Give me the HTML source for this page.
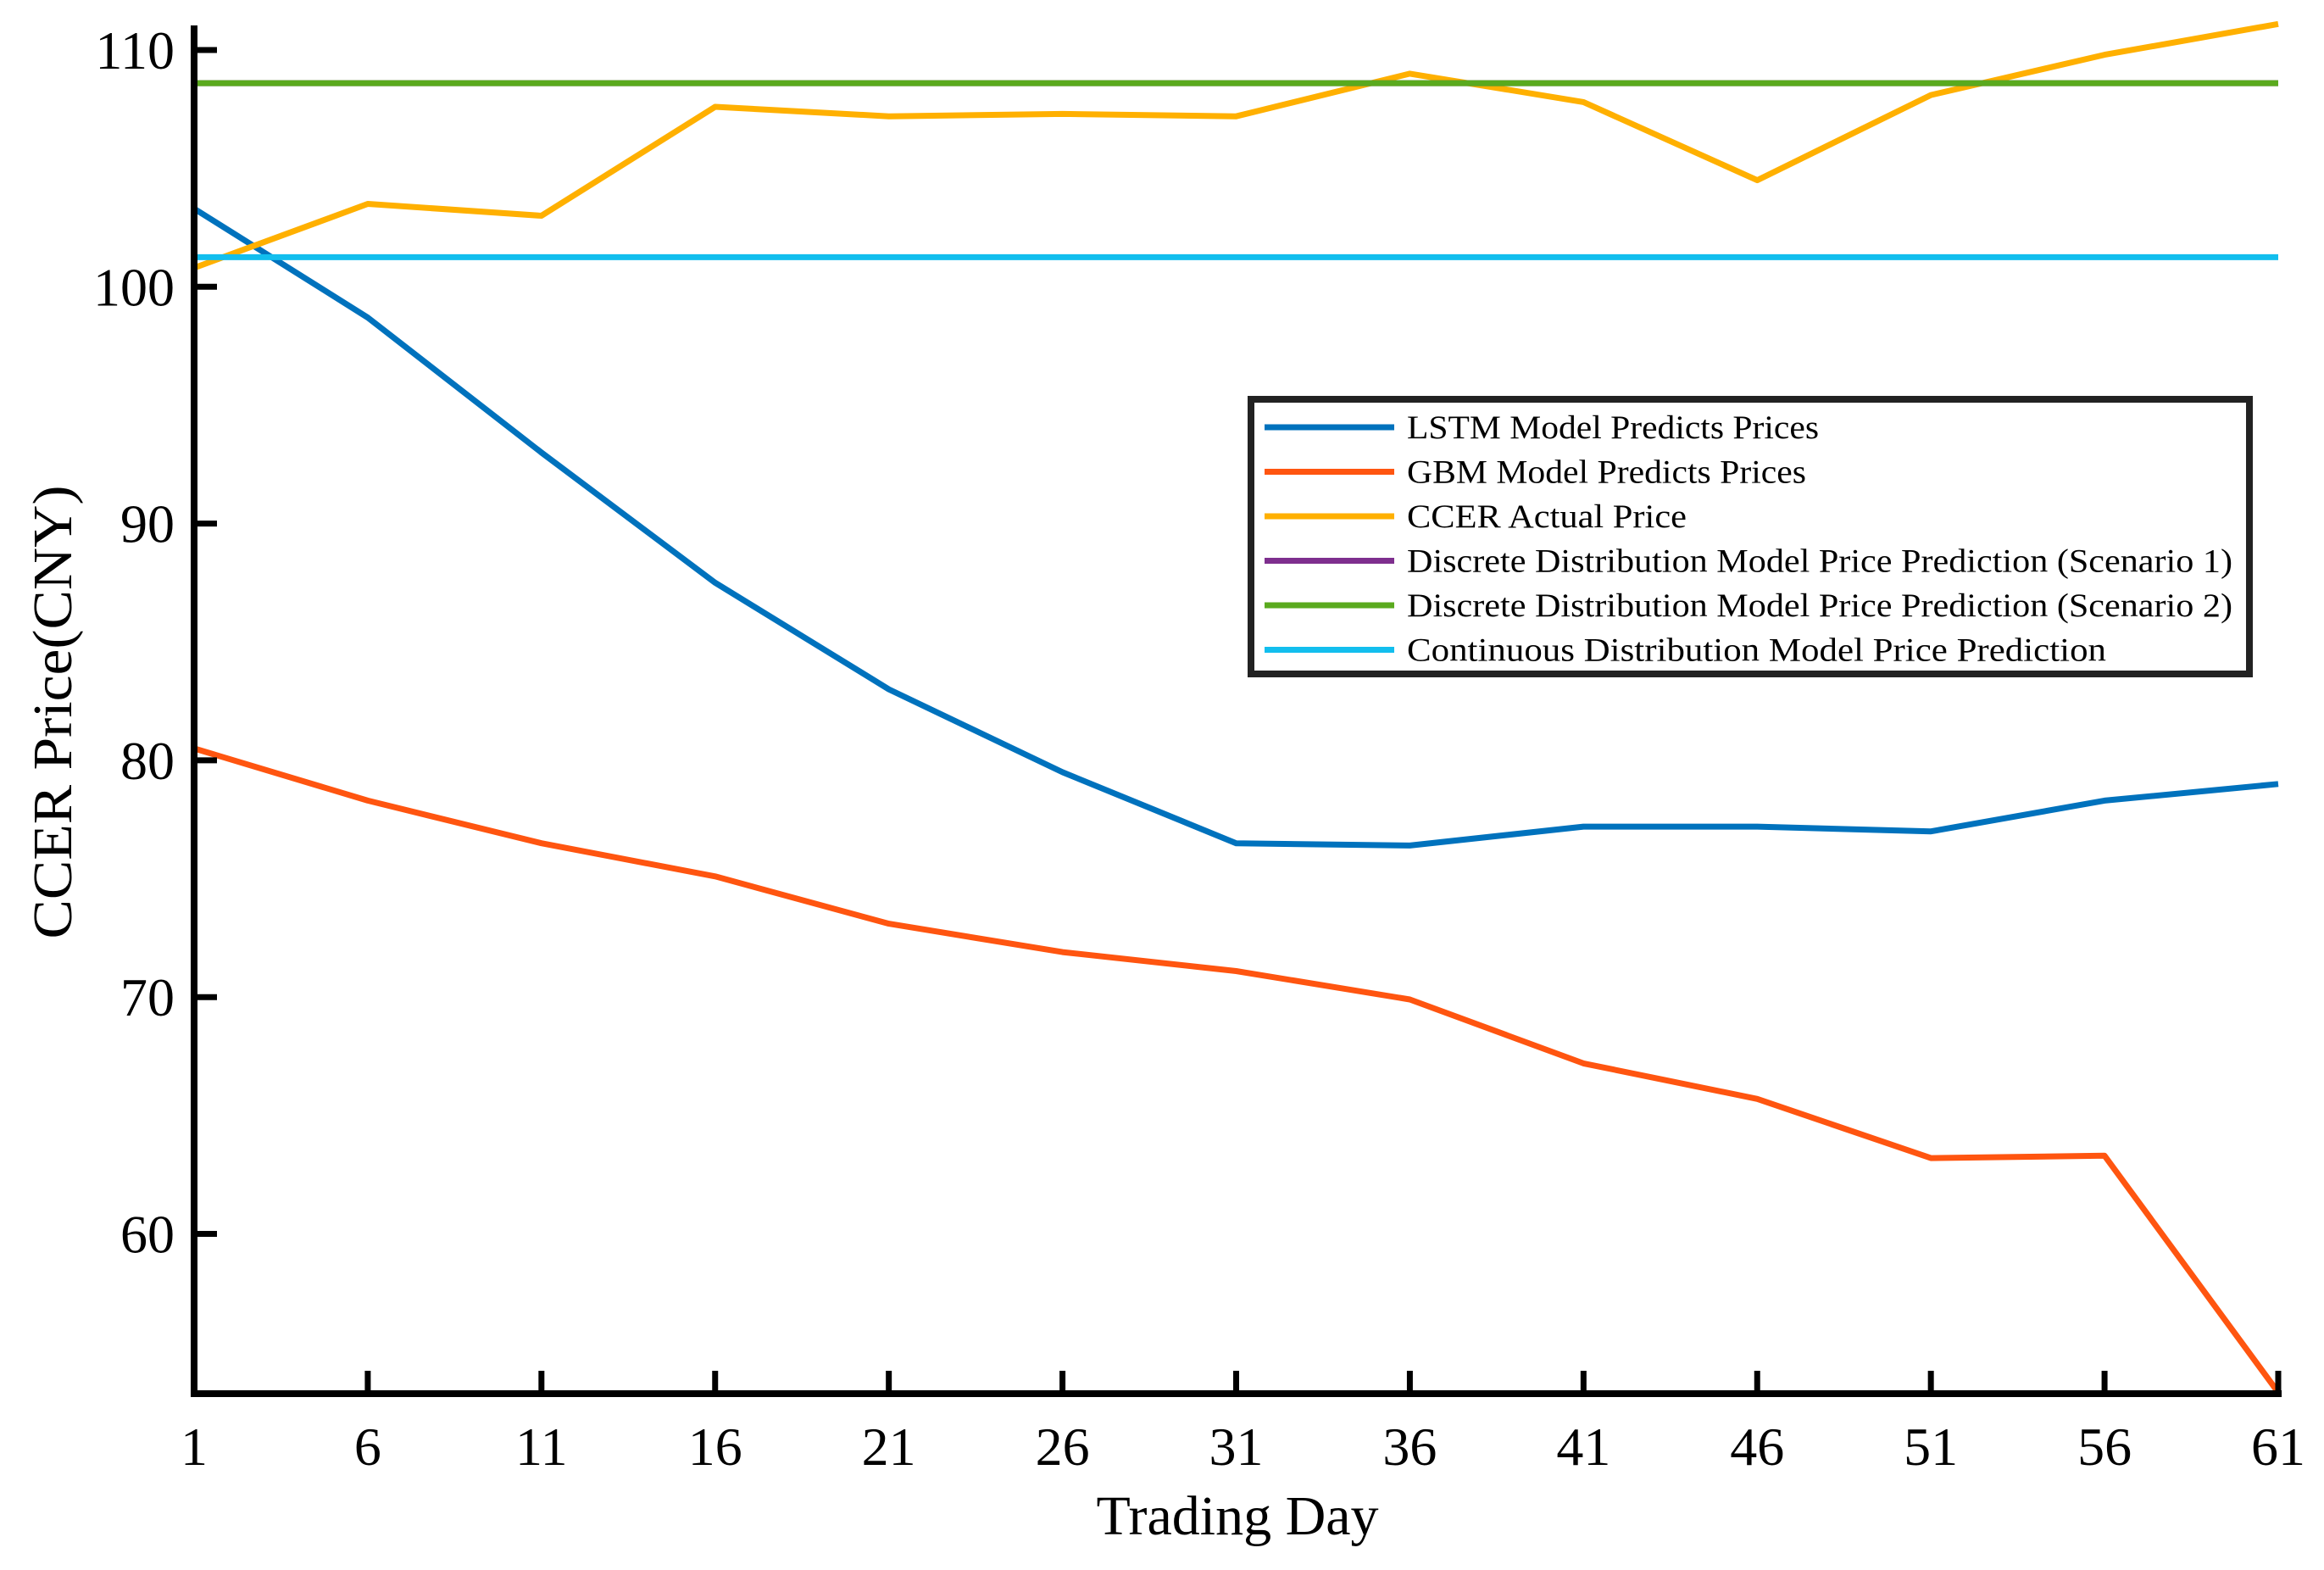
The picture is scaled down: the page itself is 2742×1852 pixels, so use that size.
<!DOCTYPE html>
<html><head><meta charset="utf-8"><style>
html,body{margin:0;padding:0;background:#fff;}
svg{display:block;font-family:"Liberation Serif","Times New Roman",serif;}
</style></head><body>
<svg id="chart" width="2742" height="1852" viewBox="0 0 2742 1852" xmlns="http://www.w3.org/2000/svg">
<g id="plot"></g>
<g id="axes"></g>
<g id="legend"></g>
</svg>
<script>
const days = [1,6,11,16,21,26,31,36,41,46,51,56,61];
const lstm = [103.3,98.7,93.0,87.5,83.0,79.5,76.5,76.4,77.2,77.2,77.0,78.3,79.0];
const gbm = [80.5,78.3,76.5,75.1,73.1,71.9,71.1,69.9,67.2,65.7,63.2,63.3,53.3];
const ccer = [100.8,103.5,103.0,107.6,107.2,107.3,107.2,109.0,107.8,104.5,108.1,109.8,111.1];
const scenario1 = [108.6,108.6];
const scenario2 = [108.6,108.6];
const continuous = [101.25,101.25];
const hDays = [1,61];
const yTicks = [60,70,80,90,100,110];
const xTicks = [1,6,11,16,21,26,31,36,41,46,51,56,61];
const legendLabels = ["LSTM Model Predicts Prices","GBM Model Predicts Prices","CCER Actual Price","Discrete Distribution Model Price Prediction (Scenario 1)","Discrete Distribution Model Price Prediction (Scenario 2)","Continuous Distribution Model Price Prediction"];

const NS="http://www.w3.org/2000/svg";
const X0=229, X1=2688, Y0=1644, YT=30;
const xMin=1,xMax=61, yRef=110, yRefPx=59, pxPerUnit=27.93;
function xs(d){return X0+(d-xMin)/(xMax-xMin)*(X1-X0);}
function ys(v){return yRefPx+(yRef-v)*pxPerUnit;}
function mk(tag,attrs,parent){const e=document.createElementNS(NS,tag);for(const k in attrs)e.setAttribute(k,attrs[k]);parent.appendChild(e);return e;}

const plot=document.getElementById('plot');
const axes=document.getElementById('axes');
const legend=document.getElementById('legend');

const series=[
 {name:'lstm-line',x:days,y:lstm,c:'#0072BD'},
 {name:'gbm-line',x:days,y:gbm,c:'#FF5510'},
 {name:'ccer-actual-line',x:days,y:ccer,c:'#FFB000'},
 {name:'scenario1-line',x:hDays,y:scenario1,c:'#7E2F8E'},
 {name:'scenario2-line',x:hDays,y:scenario2,c:'#5AAA1E'},
 {name:'continuous-line',x:hDays,y:continuous,c:'#12BEEE'}
];
series.forEach(s=>{
  const pts=s.x.map((d,i)=>xs(d).toFixed(1)+','+ys(s.y[i]).toFixed(1)).join(' ');
  const p=mk('polyline',{points:pts,fill:'none',stroke:s.c,'stroke-width':7,'stroke-linejoin':'round'},plot);
  
  
});

const ya=mk('line',{x1:X0,y1:YT,x2:X0,y2:Y0+4,stroke:'#000','stroke-width':8},axes);


const xa=mk('line',{x1:X0-4,y1:Y0,x2:X1+4,y2:Y0,stroke:'#000','stroke-width':8},axes);


yTicks.forEach(t=>{
  const y=ys(t);
  const tk=mk('line',{x1:X0,y1:y,x2:X0+27,y2:y,stroke:'#000','stroke-width':7},axes);
  
  
  const tx=mk('text',{x:206,y:y+22,'font-size':64,'text-anchor':'end',fill:'#000'},axes);
  tx.textContent=t;
  
  
});
xTicks.forEach(t=>{
  const x=xs(t);
  const tk=mk('line',{x1:x,y1:Y0,x2:x,y2:Y0-27,stroke:'#000','stroke-width':7},axes);
  
  
  const tx=mk('text',{x:x,y:1728,'font-size':64,'text-anchor':'middle',fill:'#000'},axes);
  tx.textContent=t;
  
  
});
const xt=mk('text',{x:1460,y:1810,'font-size':66,'text-anchor':'middle',fill:'#000'},axes);
xt.textContent='Trading Day';


const yt=mk('text',{x:0,y:0,'font-size':66,'text-anchor':'middle',fill:'#000',transform:'translate(84,840) rotate(-90)',textLength:535,lengthAdjust:'spacingAndGlyphs'},axes);
yt.textContent='CCER Price(CNY)';



const box=mk('rect',{x:1476,y:471,width:1178,height:324,fill:'#fff',stroke:'#222','stroke-width':8},legend);


const lw=[486,471,330,974,974,825];
legendLabels.forEach((lab,i)=>{
  const y=504+i*52.5;
  const g=mk('g',{},legend);
  
  
  mk('line',{x1:1492,y1:y,x2:1645,y2:y,stroke:series[i].c,'stroke-width':7},g);
  const t=mk('text',{x:1660,y:y+13,'font-size':39,fill:'#000',textLength:lw[i],lengthAdjust:'spacingAndGlyphs'},g);
  t.textContent=lab;
});
</script>
</body></html>
